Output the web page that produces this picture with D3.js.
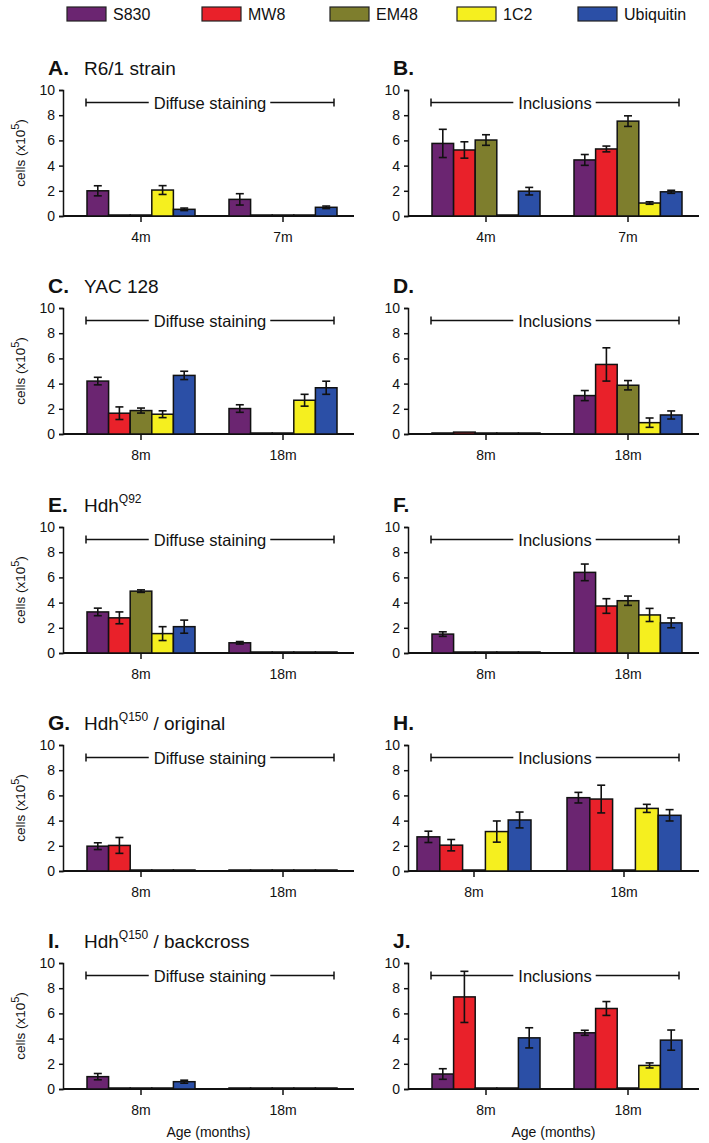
<!DOCTYPE html>
<html><head><meta charset="utf-8">
<script src="https://cdn.jsdelivr.net/npm/d3@7"></script>
<style>
body{margin:0;background:#fff}
text{font-family:"Liberation Sans",Arial,Helvetica,sans-serif;fill:#111}
</style>
</head><body>
<svg id="chart" width="709" height="1143"></svg>
<script>
// ---------- data ----------
const series = ["S830", "MW8", "EM48", "1C2", "Ubiquitin"];
const yTickValues = [0, 2, 4, 6, 8, 10];

const groupsA = ["4m", "7m"];
const valuesA = [[2.0, 0, 0, 2.06, 0.53], [1.32, 0, 0, 0, 0.69]];
const errorsA = [[0.4, 0, 0, 0.35, 0.1], [0.45, 0, 0, 0, 0.1]];

const groupsB = ["4m", "7m"];
const valuesB = [[5.76, 5.24, 6.03, 0, 1.97], [4.45, 5.32, 7.53, 1.03, 1.92]];
const errorsB = [[1.12, 0.65, 0.42, 0, 0.3], [0.43, 0.23, 0.42, 0.1, 0.12]];

const groupsC = ["8m", "18m"];
const valuesC = [[4.2, 1.65, 1.86, 1.57, 4.65], [2.02, 0, 0, 2.68, 3.67]];
const errorsC = [[0.3, 0.5, 0.2, 0.27, 0.33], [0.3, 0, 0, 0.47, 0.52]];

const groupsD = ["8m", "18m"];
const valuesD = [[0.08, 0.15, 0.05, 0.05, 0.05], [3.05, 5.52, 3.87, 0.9, 1.51]];
const errorsD = [[0, 0, 0, 0, 0], [0.4, 1.32, 0.37, 0.37, 0.32]];

const groupsE = ["8m", "18m"];
const valuesE = [[3.26, 2.79, 4.91, 1.54, 2.09], [0.81, 0, 0, 0, 0]];
const errorsE = [[0.3, 0.47, 0.1, 0.55, 0.52], [0.1, 0, 0, 0, 0]];

const groupsF = ["8m", "18m"];
const valuesF = [[1.5, 0, 0, 0, 0], [6.4, 3.73, 4.15, 3.02, 2.39]];
const errorsF = [[0.18, 0, 0, 0, 0], [0.66, 0.58, 0.37, 0.52, 0.39]];

const groupsG = ["8m", "18m"];
const valuesG = [[1.97, 2.03, 0, 0, 0], [0, 0, 0, 0, 0]];
const errorsG = [[0.27, 0.63, 0, 0, 0], [0, 0, 0, 0, 0]];

const groupsH = ["8m", "18m"];
const valuesH = [[2.71, 2.05, 0, 3.13, 4.05], [5.82, 5.71, 0, 4.97, 4.42]];
const errorsH = [[0.45, 0.45, 0, 0.84, 0.63], [0.42, 1.1, 0, 0.32, 0.45]];

const groupsI = ["8m", "18m"];
const valuesI = [[0.98, 0, 0, 0, 0.58], [0, 0, 0, 0, 0]];
const errorsI = [[0.25, 0, 0, 0, 0.12], [0, 0, 0, 0, 0]];

const groupsJ = ["8m", "18m"];
const valuesJ = [[1.19, 7.31, 0, 0, 4.06], [4.46, 6.39, 0, 1.87, 3.88]];
const errorsJ = [[0.42, 2.03, 0, 0, 0.8], [0.2, 0.55, 0, 0.2, 0.8]];

// ---------- styles / layout ----------
const seriesColors = ["#6b2571", "#e9212a", "#7e7e2d", "#f5ef1f", "#2b4fa6"];
const legendX = [67, 202, 330, 457, 578];
const colX = [63, 408];          // y-axis position per column
const rowBottom = [216, 434, 653, 871, 1089];
const plotH = 126, axisLen = 291;

const panels = [
  {letter: "A.", title: ["R6/1 strain"], col: 0, row: 0, groups: groupsA, values: valuesA, errors: errorsA, bracket: "Diffuse staining"},
  {letter: "B.", title: null, col: 1, row: 0, groups: groupsB, values: valuesB, errors: errorsB, bracket: "Inclusions"},
  {letter: "C.", title: ["YAC 128"], col: 0, row: 1, groups: groupsC, values: valuesC, errors: errorsC, bracket: "Diffuse staining"},
  {letter: "D.", title: null, col: 1, row: 1, groups: groupsD, values: valuesD, errors: errorsD, bracket: "Inclusions"},
  {letter: "E.", title: ["Hdh", "Q92", ""], col: 0, row: 2, groups: groupsE, values: valuesE, errors: errorsE, bracket: "Diffuse staining"},
  {letter: "F.", title: null, col: 1, row: 2, groups: groupsF, values: valuesF, errors: errorsF, bracket: "Inclusions"},
  {letter: "G.", title: ["Hdh", "Q150", " / original"], col: 0, row: 3, groups: groupsG, values: valuesG, errors: errorsG, bracket: "Diffuse staining"},
  {letter: "H.", title: null, col: 1, row: 3, groups: groupsH, values: valuesH, errors: errorsH, bracket: "Inclusions", centers: [66, 216], half: 57},
  {letter: "I.", title: ["Hdh", "Q150", " / backcross"], col: 0, row: 4, groups: groupsI, values: valuesI, errors: errorsI, bracket: "Diffuse staining", xlabel: true},
  {letter: "J.", title: null, col: 1, row: 4, groups: groupsJ, values: valuesJ, errors: errorsJ, bracket: "Inclusions", xlabel: true}
];

const svg = d3.select("#chart");

// ---------- legend ----------
const leg = svg.append("g");
series.forEach((s, i) => {
  leg.append("rect").attr("x", legendX[i]).attr("y", 7).attr("width", 39).attr("height", 14)
    .attr("fill", seriesColors[i]).attr("stroke", "#222").attr("stroke-width", 1.2);
  leg.append("text").attr("x", legendX[i] + 46).attr("y", 20).attr("font-size", 16).text(s);
});

// ---------- panels ----------
panels.forEach(p => {
  const x0 = colX[p.col];
  const yb = rowBottom[p.row];
  const g = svg.append("g");
  const y = d3.scaleLinear().domain([0, 10]).range([yb, yb - plotH]);
  const centers = p.centers || [78, 220];
  const half = p.half || 54;
  const xg = d3.scaleOrdinal().domain(p.groups).range(centers.map(c => x0 + c));
  const xs = d3.scaleBand().domain(series).range([-half, half]).padding(0);

  // title
  const tY = yb - 141;
  g.append("text").attr("x", x0 - 15).attr("y", tY).attr("font-size", 21).attr("font-weight", "bold").text(p.letter);
  if (p.title) {
    const t = g.append("text").attr("x", x0 + 21).attr("y", tY).attr("font-size", 19);
    t.append("tspan").text(p.title[0]);
    if (p.title.length > 1) {
      t.append("tspan").attr("font-size", 12).attr("dy", -9).text(p.title[1]);
      t.append("tspan").attr("dy", 9).text(p.title[2]);
    }
  }

  // y axis
  const ya = g.append("g").attr("transform", `translate(${x0},0)`)
    .call(d3.axisLeft(y).tickValues(yTickValues).tickSize(4).tickPadding(4));
  ya.select(".domain").attr("stroke", "#111").attr("stroke-width", 1.5);
  ya.selectAll(".tick line").attr("stroke", "#111").attr("stroke-width", 1.5);
  ya.selectAll(".tick text").attr("font-size", 14).attr("font-family", "'Liberation Sans',Arial,sans-serif").attr("fill", "#111");

  // x axis
  g.append("line").attr("x1", x0).attr("x2", x0 + axisLen).attr("y1", yb).attr("y2", yb)
    .attr("stroke", "#111").attr("stroke-width", 2);
  p.groups.forEach(gr => {
    g.append("line").attr("x1", xg(gr)).attr("x2", xg(gr)).attr("y1", yb).attr("y2", yb + 6)
      .attr("stroke", "#111").attr("stroke-width", 1.5);
    g.append("text").attr("x", xg(gr)).attr("y", yb + 26).attr("text-anchor", "middle")
      .attr("font-size", 14).text(gr);
  });

  // bars
  p.groups.forEach((gr, gi) => {
    series.forEach((s, si) => {
      const v = p.values[gi][si];
      const e = p.errors[gi][si];
      const bx = xg(gr) + xs(s);
      const h = Math.max(y(0) - y(v), 1);
      g.append("rect").attr("x", bx).attr("y", y(0) - h).attr("width", xs.bandwidth()).attr("height", h)
        .attr("fill", seriesColors[si]).attr("stroke", "#111").attr("stroke-width", 1.5);
      if (e > 0) {
        const cx = bx + xs.bandwidth() / 2;
        g.append("line").attr("x1", cx).attr("x2", cx).attr("y1", y(v + e)).attr("y2", y(v - e))
          .attr("stroke", "#111").attr("stroke-width", 1.6);
        [v + e, v - e].forEach(val => {
          g.append("line").attr("x1", cx - 4).attr("x2", cx + 4).attr("y1", y(val)).attr("y2", y(val))
            .attr("stroke", "#111").attr("stroke-width", 1.6);
        });
      }
    });
  });

  // bracket
  const by = y(9);
  const bx1 = x0 + 23, bx2 = x0 + 271;
  const bt = g.append("text").attr("x", (bx1 + bx2) / 2).attr("y", by + 6).attr("text-anchor", "middle")
    .attr("font-size", 16.5).text(p.bracket);
  const bw = bt.node().getComputedTextLength();
  const mid = (bx1 + bx2) / 2;
  [[bx1, mid - bw / 2 - 5], [mid + bw / 2 + 4, bx2]].forEach(([a, b]) => {
    g.append("line").attr("x1", a).attr("x2", b).attr("y1", by).attr("y2", by).attr("stroke", "#111").attr("stroke-width", 1.5);
  });
  [bx1, bx2].forEach(xx => {
    g.append("line").attr("x1", xx).attr("x2", xx).attr("y1", by - 4).attr("y2", by + 4).attr("stroke", "#111").attr("stroke-width", 1.5);
  });

  // y label (left column)
  if (p.col === 0) {
    const lt = g.append("text").attr("transform", `translate(25,${yb - plotH / 2}) rotate(-90)`)
      .attr("text-anchor", "middle").attr("font-size", 13.5);
    lt.append("tspan").text("cells (x10");
    lt.append("tspan").attr("dy", -6).attr("font-size", 11).text("5");
    lt.append("tspan").attr("dy", 6).text(")");
  }
  if (p.xlabel) {
    g.append("text").attr("x", x0 + axisLen / 2).attr("y", yb + 48).attr("text-anchor", "middle")
      .attr("font-size", 14).text("Age (months)");
  }
});
</script>
</body></html>
